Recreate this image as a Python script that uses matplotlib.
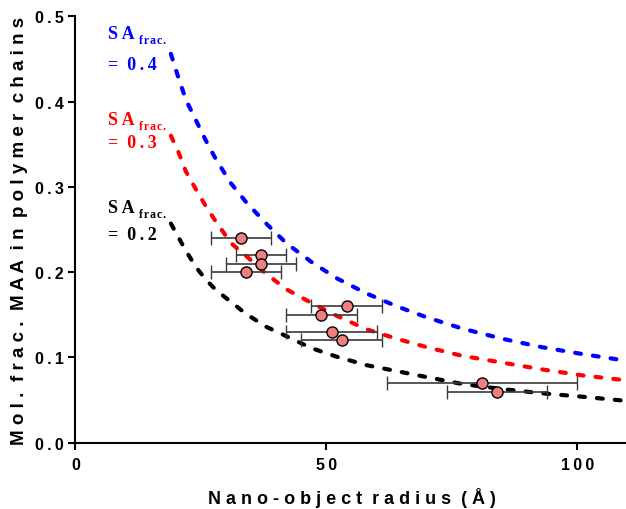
import numpy as np
import matplotlib
matplotlib.use('Agg')
import matplotlib.pyplot as plt

# model curves, MAA fraction vs radius for three surface area fractions
radius = [19, 20.5, 22, 24, 26, 28, 31, 34, 38, 42, 47, 52, 58, 64, 70, 77, 85, 93, 101, 110]
maa_sa04 = [0.456, 0.428, 0.402, 0.378, 0.354, 0.332, 0.304, 0.282, 0.257, 0.234,
            0.212, 0.193, 0.175, 0.160, 0.147, 0.134, 0.122, 0.112, 0.104, 0.096]
maa_sa03 = [0.360, 0.341, 0.318, 0.297, 0.277, 0.259, 0.234, 0.219, 0.198, 0.180,
            0.164, 0.149, 0.133, 0.122, 0.112, 0.102, 0.094, 0.086, 0.079, 0.073]
maa_sa02 = [0.257, 0.241, 0.225, 0.206, 0.191, 0.179, 0.165, 0.151, 0.136, 0.125,
            0.111, 0.101, 0.091, 0.084, 0.077, 0.069, 0.063, 0.058, 0.054, 0.049]

# measured nano-objects
obj_radius = [33, 37, 37, 34, 54, 49, 51, 53, 81, 84]
obj_radius_err = [6, 5, 7, 7, 7, 7, 9, 8, 19, 10]
obj_maa = [0.24, 0.22, 0.21, 0.20, 0.16, 0.15, 0.13, 0.12, 0.07, 0.06]

sa_labels = ['0.4', '0.3', '0.2']
sa_colors = ['#0000ff', '#ff0000', '#000000']
sa_label_y = [(0.4746, 0.4382), (0.3736, 0.3464), (0.2702, 0.2389)]

xticks = [0, 50, 100]
yticks = [0.0, 0.1, 0.2, 0.3, 0.4, 0.5]


def spaced(s, gap=' '):
    # letter-spaced text, double gap between words
    return (gap * 2).join(gap.join(w) for w in s.split(' '))


sans = ['Liberation Sans', 'DejaVu Sans']
serif = ['Liberation Serif', 'DejaVu Serif']

fig = plt.figure(figsize=(6.26, 5.10), dpi=100)
ax = fig.add_axes([0.1206, 0.1298, 0.8821, 0.8363])

for y, c in zip([maa_sa04, maa_sa03, maa_sa02], sa_colors):
    ax.plot(radius, y, color=c, lw=3, dashes=(1.4, 2.9), dash_capstyle='round',
            solid_capstyle='round', zorder=2)

ax.errorbar(obj_radius, obj_maa, xerr=obj_radius_err, fmt='o', ms=8,
            mfc='#f08080', mec='black', mew=1, ecolor='#3a3a3a',
            elinewidth=1.2, capsize=5, capthick=1.2, zorder=3)

for lab, c, (y1, y2) in zip(sa_labels, sa_colors, sa_label_y):
    t = ax.text(6.5, y1, 'S\u2009A', color=c, fontsize=13, fontweight='bold',
                family=serif, ha='left', va='baseline')
    ax.annotate('f\u200ar\u200aa\u200ac\u200a.', xy=(1, 0), xycoords=t,
                xytext=(3.2, -0.6), textcoords='offset points', color=c,
                fontsize=8.5, fontweight='bold', family=serif,
                ha='left', va='baseline')
    ax.text(6.5, y2, '=  ' + '\u2009'.join(lab), color=c, fontsize=13,
            fontweight='bold', family=serif, ha='left', va='baseline')

ax.set_xlim(0, 110)
ax.set_ylim(0, 0.5)
ax.set_xticks(xticks, ['\u2009'.join(str(v)) for v in xticks])
ax.set_yticks(yticks, ['\u2009'.join('%.1f' % v) for v in yticks])

for s in ['top', 'right']:
    ax.spines[s].set_visible(False)
for s in ['left', 'bottom']:
    ax.spines[s].set_linewidth(1.5)
ax.tick_params(width=1.5, length=5, labelsize=11.5)
ax.tick_params(axis='x', pad=5)
ax.tick_params(axis='y', pad=3.5)
for lbl in ax.get_xticklabels() + ax.get_yticklabels():
    lbl.set_fontweight('bold')
    lbl.set_family(sans)

ax.set_xlabel(spaced('Nano-object radius (Å)'), fontsize=13, fontweight='bold',
              family=sans, labelpad=11)
ax.set_ylabel(spaced('Mol. frac. MAA in polymer chains'), fontsize=13.5,
              fontweight='bold', family=sans, labelpad=5)

plt.savefig('out.png', dpi=100)
plt.close('all')
